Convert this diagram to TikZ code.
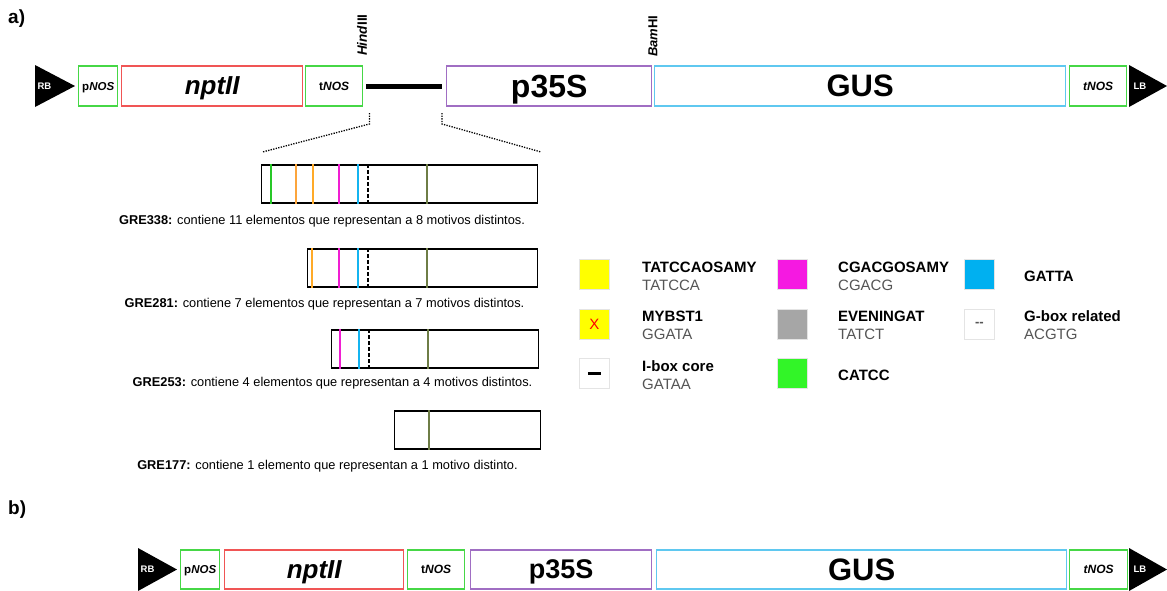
\documentclass[tikz,border=0pt]{standalone}
\usepackage{fontspec}
\setmainfont{Liberation Sans}
\usetikzlibrary{calc}
\definecolor{nosgreen}{RGB}{70,215,70}
\definecolor{nptred}{RGB}{240,85,85}
\definecolor{cmvpurple}{RGB}{160,110,195}
\definecolor{gusblue}{RGB}{95,200,240}
\definecolor{mgreen}{RGB}{40,200,40}
\definecolor{msalmon}{RGB}{252,165,60}
\definecolor{morange}{RGB}{255,170,40}
\definecolor{mmagenta}{RGB}{240,30,210}
\definecolor{mblue}{RGB}{20,180,240}
\definecolor{molive}{RGB}{110,125,70}
\definecolor{lyellow}{RGB}{255,255,0}
\definecolor{lmagenta}{RGB}{245,25,225}
\definecolor{lgray}{RGB}{166,166,166}
\definecolor{lgreen}{RGB}{50,245,40}
\definecolor{lblue}{RGB}{0,176,240}
\definecolor{subgray}{RGB}{85,85,85}
\definecolor{edgegray}{RGB}{228,228,228}
\tikzset{
  part/.style    = {draw=#1, line width=1.4pt, minimum height=40pt, inner sep=0pt,
                    text depth=0pt, anchor=west},
  nos/.style     = {part=nosgreen, font=\fontsize{11.5}{12}\selectfont\bfseries},
  bigpart/.style = {part=#1, font=\fontsize{31}{32}\selectfont\bfseries},
  btext/.style   = {text=white, inner sep=0pt, font=\fontsize{9.5}{10}\selectfont\bfseries},
  enzyme/.style  = {rotate=90, anchor=west, inner sep=0pt, font=\fontsize{13.5}{14}\selectfont\bfseries},
  panel/.style   = {anchor=base west, inner sep=0pt, font=\fontsize{19}{20}\selectfont\bfseries},
  gre/.style     = {draw, line width=1.5pt, minimum height=38pt, inner sep=0pt, anchor=north east},
  motif/.style   = {line width=1.7pt},
  zoomline/.style= {line width=1.3pt, dash pattern=on 1.3pt off 1.3pt},
  caption/.style = {anchor=base, inner sep=0pt, font=\fontsize{12.8}{13}\selectfont},
  swatch/.style  = {draw=edgegray, line width=0.7pt, minimum size=30pt, inner sep=0pt,
                    anchor=north west},
  legtitle/.style= {anchor=base west, inner sep=0pt, font=\fontsize{15}{15}\selectfont\bfseries},
  legseq/.style  = {anchor=base west, inner sep=0pt, text=subgray, font=\fontsize{15}{15}\selectfont},
}
\begin{document}
\begin{tikzpicture}[x=1pt,y=-1pt]
 \fill[white] (0,0) rectangle (1167,590);
 \useasboundingbox (0,0) rectangle (1167,590);
 \node[panel] (laba) at (8,23) {a)};
 \node[panel] (labb) at (8,514) {b)};
 % a: construct with the promoter fragment
 \fill (35,65) -- (75,86) -- (35,107) -- cycle;
 \node[btext] (rbA) at (44.5,86) {RB};
 \node[nos, minimum width=39pt] (pnosA) at (78,86) {p\textit{NOS}};
 \node[bigpart=nptred, minimum width=181pt, font=\fontsize{26}{27}\selectfont\bfseries\itshape]
     (nptA) at (121,86) {nptII};
 \node[nos, minimum width=57pt, font=\fontsize{12}{12}\selectfont\bfseries] (tnosA) at (305,86) {t\textit{NOS}};
 \coordinate (hind) at ([xshift=3pt]tnosA.east);
 \node[bigpart=cmvpurple, minimum width=205pt, font=\fontsize{32}{32}\selectfont\bfseries]
     (p35sA) at (446,86) {p35S};
 \coordinate (bam) at ([xshift=-4pt]p35sA.west);
 \draw[line width=5pt] (hind) -- (bam);
 \node[bigpart=gusblue, minimum width=411pt] (gusA) at (654,86) {GUS};
 \node[nos, minimum width=57pt, font=\fontsize{12}{12}\selectfont\bfseries\itshape] (tnosA2) at (1069,86) {tNOS};
 \fill (1129,65) -- (1167,86) -- (1129,107) -- cycle;
 \node[btext] (lbA) at (1140,86) {LB};
 \node[enzyme] (hindlab) at (362,56) {\textit{Hind}III};
 \node[enzyme, font=\fontsize{13}{13}\selectfont\bfseries] (bamlab) at (653,57) {\textit{Bam}HI};
 % promoter fragments
 \node[gre, minimum width=276pt] (g338) at (538,164) {};
 \node[gre, minimum width=230pt] (g281) at (538,248) {};
 \node[gre, minimum width=207pt] (g253) at (539,329) {};
 \node[gre, minimum width=146pt] (g177) at (541,410) {};
 \draw[zoomline] ($(hind)+(3,27)$) -- ($(hind)+(3,38)$) -- ($(g338.north west)+(2,-12)$);
 \draw[zoomline] ($(bam)+(0,27)$) -- ($(bam)+(0,38)$) -- ($(g338.north east)+(3,-12)$);
 \foreach \x/\c in {271/mgreen, 296/msalmon, 313/morange, 339/mmagenta,
                    358/mblue, 427/molive}
   \draw[motif, \c] (\x,0 |- g338.north) -- (\x,0 |- g338.south);
 \foreach \x/\c in {312/morange, 339/mmagenta, 358/mblue, 427/molive}
   \draw[motif, \c] (\x,0 |- g281.north) -- (\x,0 |- g281.south);
 \foreach \x/\c in {340/mmagenta, 359/mblue, 428/molive}
   \draw[motif, \c] (\x,0 |- g253.north) -- (\x,0 |- g253.south);
 \draw[motif, molive] (429,0 |- g177.north) -- (429,0 |- g177.south);
 \foreach \g/\x in {g338/368, g281/368, g253/369}
   \draw[motif, black, dash pattern=on 3.5pt off 2.5pt] (\x,0 |- \g.north) -- (\x,0 |- \g.south);
 \node[caption] (c338) at (322,224)
     {\textbf{GRE338:} contiene 11 elementos que representan a 8 motivos distintos.};
 \node[caption] (c281) at (324.5,307)
     {\textbf{GRE281:} contiene 7 elementos que representan a 7 motivos distintos.};
 \node[caption] (c253) at (332.5,386)
     {\textbf{GRE253:} contiene 4 elementos que representan a 4 motivos distintos.};
 \node[caption] (c177) at (327.5,469)
     {\textbf{GRE177:} contiene 1 elemento que representan a 1 motivo distinto.};
 % legend
 \foreach \n/\x/\y/\c in {tat/579/259/lyellow, myb/579/309/lyellow, ibox/579/358/white,
                          cga/777/259/lmagenta, eve/777/309/lgray, cat/777/358/lgreen,
                          gat/964/259/lblue, gbox/964/309/white}
   \node[swatch, fill=\c] (sw\n) at (\x,\y) {};
 \node[text=red, inner sep=0pt, font=\fontsize{15}{15}\selectfont] (xmyb) at (swmyb) {X};
 \draw[line width=2.6pt] ($(swibox.center)+(-6.5,0)$) -- ($(swibox.center)+(6.5,0)$);
 \node[text=subgray, inner sep=0pt, font=\fontsize{13}{13}\selectfont\bfseries] (dgbox) at (swgbox) {-{}-};
 \foreach \n/\x/\y/\t/\s in {tat/642/272/TATCCAOSAMY/TATCCA, myb/642/321/MYBST1/GGATA,
                             ibox/642/371/I-box core/GATAA, cga/838/272/CGACGOSAMY/CGACG,
                             eve/838/321/EVENINGAT/TATCT, gbox/1024/321/G-box related/ACGTG}{
   \node[legtitle] (t\n) at (\x,\y) {\t};
   \node[legseq] (s\n) at (\x,{\y+18}) {\s};}
 \node[legtitle] (tgat) at (1024,281) {GATTA};
 \node[legtitle] (tcat) at (838,380) {CATCC};
 % b: construct without the fragment
 \fill (138,548) -- (177,569.5) -- (138,591) -- cycle;
 \node[btext] (rbB) at (147.5,569.5) {RB};
 \node[nos, minimum width=39pt, minimum height=39pt] (pnosB) at (180,569.5) {p\textit{NOS}};
 \node[bigpart=nptred, minimum width=179pt, minimum height=39pt,
       font=\fontsize{26}{27}\selectfont\bfseries\itshape] (nptB) at (224,569.5) {nptII};
 \node[nos, minimum width=57pt, minimum height=39pt, font=\fontsize{12}{12}\selectfont\bfseries]
     (tnosB) at (407,569.5) {t\textit{NOS}};
 \node[bigpart=cmvpurple, minimum width=181pt, minimum height=39pt,
       font=\fontsize{27}{27}\selectfont\bfseries] (p35sB) at (470,569.5) {p35S};
 \node[bigpart=gusblue, minimum width=410pt, minimum height=39pt] (gusB) at (656,569.5) {GUS};
 \node[nos, minimum width=58pt, minimum height=39pt, font=\fontsize{12}{12}\selectfont\bfseries\itshape]
     (tnosB2) at (1069,569.5) {tNOS};
 \fill (1129,548) -- (1167,569.5) -- (1129,591) -- cycle;
 \node[btext] (lbB) at (1140,569.5) {LB};
\end{tikzpicture}
\end{document}
